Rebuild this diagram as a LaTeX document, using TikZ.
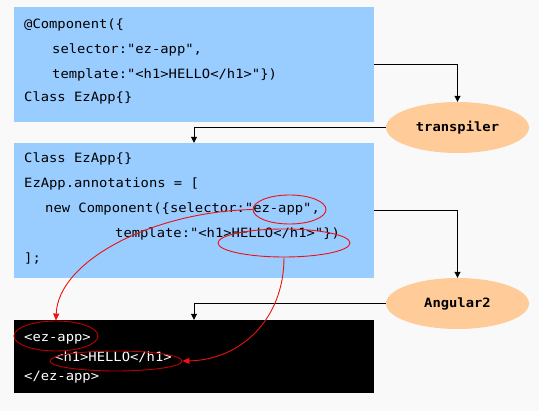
\documentclass[tikz,border=0pt]{standalone}
\usepackage{fontspec}
\setmonofont{DejaVu Sans Mono}[FakeStretch=1.08]
\usetikzlibrary{arrows.meta,shapes.geometric}
\definecolor{bg}{HTML}{F9F9F9}
\definecolor{boxblue}{HTML}{99CCFF}
\definecolor{ovl}{HTML}{FFCC99}
\definecolor{redline}{HTML}{EE1111}
\tikzset{
  codebox/.style={rectangle,minimum width=360pt,inner sep=0pt,draw=none},
  code/.style={anchor=base west,inner sep=0pt,font=\fontsize{12.8}{14}\selectfont\ttfamily},
  whitecode/.style={code,text=white},
  oval/.style={ellipse,fill=ovl,minimum width=143pt,minimum height=51pt,inner sep=0pt,font=\fontsize{12.8}{14}\selectfont\ttfamily\bfseries},
  flow/.style={draw=black,line width=0.9pt,-{Triangle[width=6pt,length=6pt]}},
  ring/.style={ellipse,draw=redline,line width=0.9pt,inner sep=0pt},
  redarr/.style={draw=redline,line width=0.9pt,-{Triangle[width=6pt,length=7pt]}}
}
\begin{document}
\begin{tikzpicture}[x=1pt,y=-1pt]
\fill[bg] (0,0) rectangle (539,411);
\useasboundingbox (0,0) rectangle (539,411);
% boxes
\node[codebox,fill=boxblue,minimum height=115pt] (box1) at (194,64.5) {};
\node[codebox,fill=boxblue,minimum height=135pt] (box2) at (194,210.5) {};
\node[codebox,fill=black,minimum height=73pt] (box3) at (194,356.5) {};
% ovals
\node[oval] (trans) at (457.5,127.5) {transpiler};
\node[oval] (ang) at (457.5,303.5) {Angular2};
% box1 text
\node[code] (t1) at (24,29) {@Component(\{};
\node[code] (t2) at (52,54) {selector:"ez-app",};
\node[code] (t3) at (52,79) {template:"<h1>HELLO</h1>"\})};
\node[code] (t4) at (24,102) {Class EzApp\{\}};
% box2 text
\node[code] (u1) at (24,163) {Class EzApp\{\}};
\node[code] (u2) at (24,188) {EzApp.annotations = [};
\node[code] (u3) at (45,213) {new Component(\{selector:"ez-app",};
\node[code] (u4) at (115,238) {template:"<h1>HELLO</h1>"\})};
\node[code] (u5) at (24,263) {];};
% box3 text
\node[whitecode] (v1) at (24,342) {<ez-app>};
\node[whitecode] (v2) at (55,362) {<h1>HELLO</h1>};
\node[whitecode] (v3) at (24,381) {</ez-app>};
% flow connectors
\draw[flow] (box1.east) -| (trans.north);
\draw[flow] (trans.west) -| (box2.north);
\draw[flow] (box2.east) -| (ang.north);
\draw[flow] (ang.west) -| (box3.north);
% red rings
\node[ring,minimum width=73pt,minimum height=29pt] (e1) at (289.5,209.5) {};
\node[ring,minimum width=132pt,minimum height=28pt] (e2) at (284,243) {};
\node[ring,draw=red!75!black,minimum width=84pt,minimum height=30pt] (e3) at (56,336) {};
\node[ring,draw=red!75!black,minimum width=132pt,minimum height=20pt] (e4) at (116,361) {};
% red arrows
\draw[redarr] (e1.west) .. controls (150,212) and (58,262) .. (e3.north);
\draw[redarr] (e2.south) .. controls (284,320) and (240,360) .. (e4.east);
\end{tikzpicture}
\end{document}
